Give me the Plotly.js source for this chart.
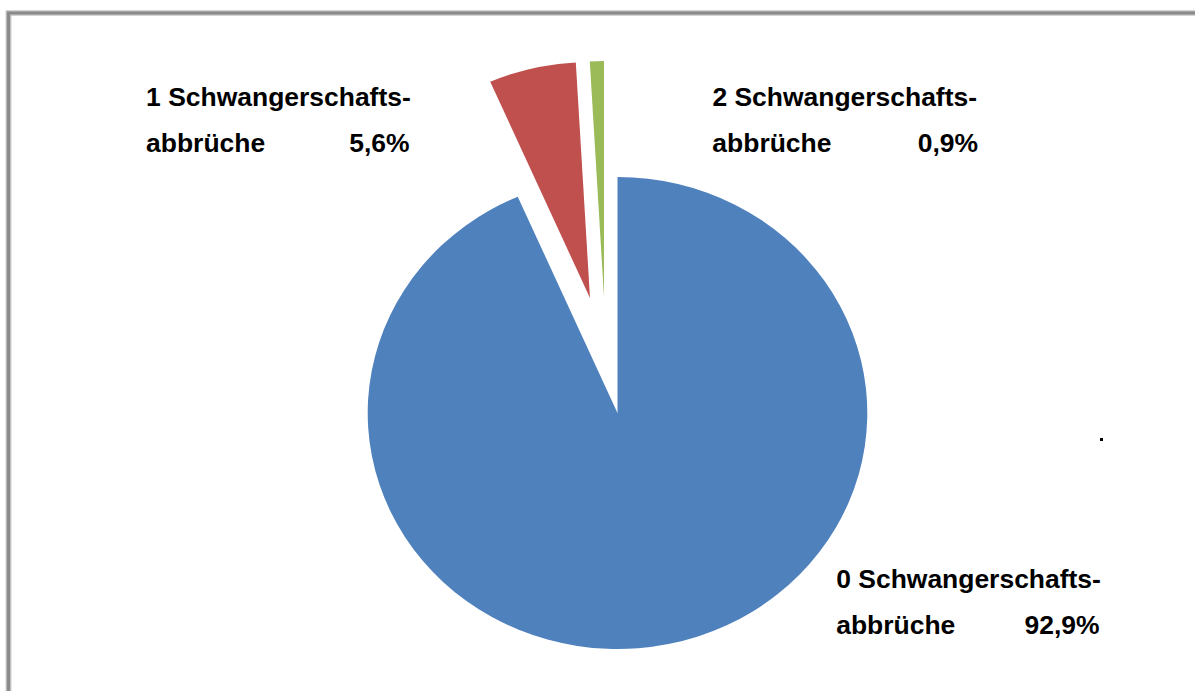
<!DOCTYPE html>
<html>
<head>
<meta charset="utf-8">
<script src="https://cdn.plot.ly/plotly-3.0.1.min.js"></script>
<style>
  html, body { margin:0; padding:0; background:#ffffff; overflow:hidden; width:1195px; height:691px; }
  #chart { width:1129px; height:691px; transform:scaleX(1.058459); transform-origin:0 0; }
</style>
</head>
<body>
<div id="chart"></div>
<script>
// ---- data ----
const categories = ['0 Schwangerschaftsabbrüche', '1 Schwangerschaftsabbrüche', '2 Schwangerschaftsabbrüche'];
const values = [92.9, 5.6, 0.9];
const percentText = ['92,9%', '5,6%', '0,9%'];
const labelFirstLine = ['0 Schwangerschafts-', '1 Schwangerschafts-', '2 Schwangerschafts-'];
const labelSecondLine = ['abbrüche', 'abbrüche', 'abbrüche'];
const sliceColors = ['#4F81BD', '#C0504D', '#9BBB59'];

// ---- geometry / styling ----
const FIG_W = 1195, FIG_H = 691;
const PLOT_W = 1129;
const SX = FIG_W / PLOT_W;          // horizontal stretch of the original picture
const R = 236;                       // pie radius (px)
const sliceCentres = [[617.5, 413], [590, 298], [604, 297]];   // exploded slice apexes (picture px)
const labelPos = [
  {left: 837, right: 1099, base1: 588, base2: 634},
  {left: 147, right: 409,  base1: 106, base2: 152},
  {left: 713, right: 977,  base1: 106, base2: 152}
];
const FONT = {family: '"Liberation Sans", Arial, sans-serif', size: 25, color: '#000000', weight: 'bold'};

function px2paperX(X) { return X / FIG_W; }
function px2paperY(Y) { return 1 - Y / FIG_H; }

const traces = values.map(function (v, i) {
  const cxu = sliceCentres[i][0] / SX;
  const cy = sliceCentres[i][1];
  return {
    type: 'pie',
    labels: categories,
    values: values,
    sort: false,
    direction: 'clockwise',
    rotation: 0,
    textinfo: 'none',
    hoverinfo: 'skip',
    showlegend: false,
    marker: {
      colors: sliceColors.map(function (c, j) { return j === i ? c : 'rgba(0,0,0,0)'; }),
      line: {width: 0}
    },
    domain: {
      x: [(cxu - R) / PLOT_W, (cxu + R) / PLOT_W],
      y: [(FIG_H - cy - R) / FIG_H, (FIG_H - cy + R) / FIG_H]
    }
  };
});

const annotations = [];
labelFirstLine.forEach(function (t, i) {
  const p = labelPos[i];
  const mid = 0.348 * FONT.size;
  annotations.push({text: '<b>' + t + '</b>', xref: 'paper', yref: 'paper',
    x: px2paperX(p.left - 3), y: px2paperY(p.base1 - mid), xanchor: 'left', yanchor: 'middle',
    showarrow: false, font: FONT});
  annotations.push({text: '<b>' + labelSecondLine[i] + '</b>', xref: 'paper', yref: 'paper',
    x: px2paperX(p.left - 3), y: px2paperY(p.base2 - mid), xanchor: 'left', yanchor: 'middle',
    showarrow: false, font: FONT});
  annotations.push({text: '<b>' + percentText[i] + '</b>', xref: 'paper', yref: 'paper',
    x: px2paperX(p.right + 3), y: px2paperY(p.base2 - mid), xanchor: 'right', yanchor: 'middle',
    showarrow: false, font: FONT});
});

const shapes = [
  {type: 'rect', xref: 'paper', yref: 'paper', layer: 'below',
   x0: px2paperX(8.5), x1: 1.05, y0: -0.05, y1: px2paperY(13),
   line: {color: '#c4c4c4', width: 5.5}, fillcolor: 'rgba(0,0,0,0)'},
  {type: 'rect', xref: 'paper', yref: 'paper', layer: 'below',
   x0: px2paperX(8.5), x1: 1.05, y0: -0.05, y1: px2paperY(13),
   line: {color: '#8a8a8a', width: 3}, fillcolor: 'rgba(0,0,0,0)'},
  {type: 'rect', xref: 'paper', yref: 'paper',
   x0: px2paperX(1100), x1: px2paperX(1103), y0: px2paperY(441), y1: px2paperY(438),
   line: {width: 0}, fillcolor: '#000000'}
];

const layout = {
  width: PLOT_W,
  height: FIG_H,
  margin: {l: 0, r: 0, t: 0, b: 0, pad: 0},
  paper_bgcolor: '#ffffff',
  plot_bgcolor: '#ffffff',
  showlegend: false,
  annotations: annotations,
  shapes: shapes
};

Plotly.newPlot('chart', traces, layout, {staticPlot: true, displayModeBar: false});
</script>
</body>
</html>
